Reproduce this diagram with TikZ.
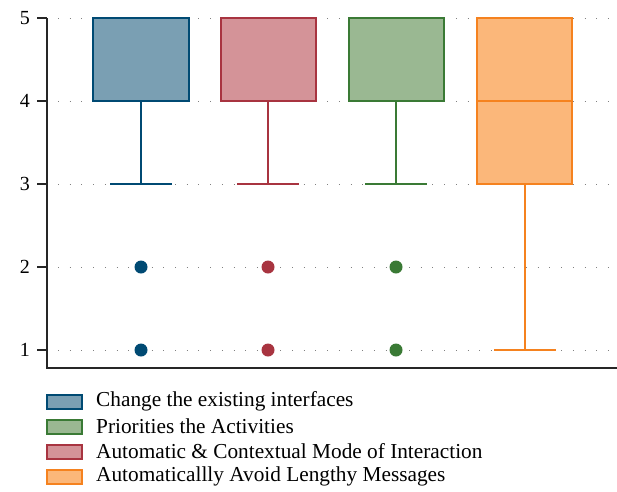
\documentclass[tikz,border=0pt]{standalone}
\usepackage{fontspec}
\setmainfont{Liberation Serif}
\definecolor{bS}{HTML}{004A73}\definecolor{bF}{HTML}{7A9FB3}
\definecolor{rS}{HTML}{A83440}\definecolor{rF}{HTML}{D49398}
\definecolor{gS}{HTML}{3A7A35}\definecolor{gF}{HTML}{9AB892}
\definecolor{oS}{HTML}{F5821F}\definecolor{oF}{HTML}{FBB77A}
\begin{document}
\begin{tikzpicture}[x=1pt,y=-1pt,
  grid/.style={gray,line width=1pt,dash pattern=on 1pt off 10.7pt},
  boxst/.style={line width=2.5pt},
  whisk/.style={line width=2.2pt},
  axis/.style={line width=1.3pt,black!85},
  ticklab/.style={font=\fontsize{20}{20}\selectfont,anchor=east,inner sep=0pt},
  legtext/.style={font=\fontsize{21.3}{22}\selectfont,anchor=west,inner sep=0pt},
  swatch/.style={line width=2pt,minimum width=35pt,minimum height=14pt,inner sep=0pt}]
\useasboundingbox (0,0) rectangle (617,491);
% grid
\foreach \y in {18,101,184,267,350} \draw[grid] (58,\y) -- (617,\y);
% axes
\draw[axis] (47,18) -- (47,368) -- (617,368);
\foreach \y/\l in {18/5,101/4,184/3,267/2,350/1}{
  \draw[axis] (37,\y) -- (47,\y);
  \node[ticklab] (t\l) at (30,\y) {\l};}
% blue
\draw[whisk,bS] (141,101) -- (141,184) (110,184) -- (172,184);
\draw[boxst,draw=bS,fill=bF] (93,18) rectangle (189,101);
\fill[bS] (141,267) circle (6.5) (141,350) circle (6.5);
% red
\draw[whisk,rS] (268,101) -- (268,184) (237,184) -- (299,184);
\draw[boxst,draw=rS,fill=rF] (221,18) rectangle (316,101);
\fill[rS] (268,267) circle (6.5) (268,350) circle (6.5);
% green
\draw[whisk,gS] (396,101) -- (396,184) (365,184) -- (427,184);
\draw[boxst,draw=gS,fill=gF] (349,18) rectangle (444,101);
\fill[gS] (396,267) circle (6.5) (396,350) circle (6.5);
% orange
\draw[whisk,oS] (525,184) -- (525,350) (494,350) -- (556,350);
\draw[boxst,draw=oS,fill=oF] (477,18) rectangle (572,184);
\draw[boxst,oS] (477,101) -- (572,101);
% legend
\node[swatch,draw=bS,fill=bF] (s1) at (64.5,402) {};
\node[legtext] (l1) at (96,401) {Change the existing interfaces};
\node[swatch,draw=gS,fill=gF] (s2) at (64.5,427) {};
\node[legtext] (l2) at (96,426) {Priorities the Activities};
\node[swatch,draw=rS,fill=rF] (s3) at (64.5,452) {};
\node[legtext] (l3) at (96,451) {Automatic \& Contextual Mode of Interaction};
\node[swatch,draw=oS,fill=oF] (s4) at (64.5,477) {};
\node[legtext] (l4) at (96,476) {Automaticallly Avoid Lengthy Messages};
\end{tikzpicture}
\end{document}
